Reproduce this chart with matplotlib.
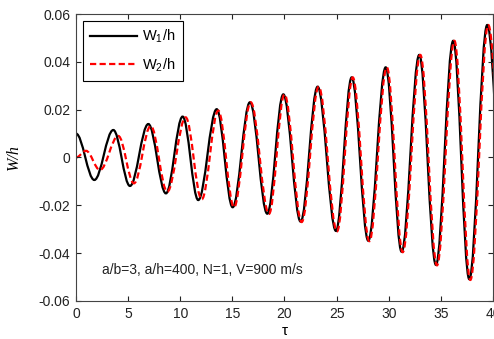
import matplotlib
matplotlib.use('Agg')
import matplotlib.pyplot as plt
from matplotlib.path import Path
from matplotlib.patches import PathPatch
from matplotlib.lines import Line2D

# turning points of the two responses (tau, W/h)
tau_w1 = [0.0, 1.76, 3.58, 5.18, 6.94, 8.63, 10.23, 11.73, 13.50, 15.03, 16.69, 18.35,
          19.89, 21.55, 23.18, 24.94, 26.45, 28.04, 29.71, 31.24, 32.93, 34.53, 36.19,
          37.73, 39.45, 41.4]
w1 = [0.0100, -0.0094, 0.0115, -0.0119, 0.0140, -0.0150, 0.0171, -0.0178, 0.0202, -0.0208,
      0.0231, -0.0235, 0.0264, -0.0268, 0.0296, -0.0307, 0.0335, -0.0348, 0.0377, -0.0394,
      0.0429, -0.0449, 0.0488, -0.0509, 0.0554, -0.0570]

tau_w2 = [0.0, 0.96, 2.30, 4.06, 5.56, 7.17, 8.76, 10.52, 12.06, 13.65, 15.16, 16.76, 18.51,
          20.00, 21.65, 23.28, 25.04, 26.55, 28.14, 29.82, 31.34, 33.03, 34.63, 36.30,
          37.83, 39.55, 41.5]
w2 = [0.0, 0.0028, -0.0052, 0.0090, -0.0108, 0.0132, -0.0143, 0.0168, -0.0175, 0.0196,
      -0.0208, 0.0231, -0.0236, 0.0264, -0.0270, 0.0296, -0.0309, 0.0335, -0.0350, 0.0377,
      -0.0396, 0.0429, -0.0451, 0.0488, -0.0512, 0.0554, -0.0570]

x_ticks = [0, 5, 10, 15, 20, 25, 30, 35, 40]
y_ticks = [-0.06, -0.04, -0.02, 0, 0.02, 0.04, 0.06]
y_tick_labels = ['-0.06', '-0.04', '-0.02', '0', '0.02', '0.04', '0.06']
labels = ['W$_1$/h', 'W$_2$/h']
note = 'a/b=3, a/h=400, N=1, V=900 m/s'

plt.rcParams['font.family'] = ['Liberation Sans', 'DejaVu Sans']
plt.rcParams['mathtext.default'] = 'regular'
plt.rcParams['axes.unicode_minus'] = False


# smooth curve through the turning points (horizontal tangent at each one)
def smooth_path(tau, w, k=0.363):
    verts = [(tau[0], w[0])]
    codes = [Path.MOVETO]
    for i in range(1, len(tau)):
        dt = tau[i] - tau[i - 1]
        verts += [(tau[i - 1] + k * dt, w[i - 1]), (tau[i] - k * dt, w[i]), (tau[i], w[i])]
        codes += [Path.CURVE4] * 3
    return Path(verts, codes)


fig = plt.figure(figsize=(4.94, 3.39), dpi=100)
ax = fig.add_axes([0.1538, 0.1121, 0.8441, 0.8466])

dash = (0, (2.8, 1.5))
ax.add_patch(PathPatch(smooth_path(tau_w1, w1), fill=False, edgecolor='black', lw=1.6))
ax.add_patch(PathPatch(smooth_path(tau_w2, w2), fill=False, edgecolor='red', lw=1.6,
                       linestyle=dash))

ax.set_xlim(0, 40)
ax.set_ylim(-0.06, 0.06)
ax.set_xticks(x_ticks)
ax.set_yticks(y_ticks)
ax.set_yticklabels(y_tick_labels)
ax.tick_params(direction='in', length=3.5, width=0.8, labelsize=10, pad=4,
               top=True, right=True, colors='#222222')
for s in ax.spines.values():
    s.set_color('#444444')
    s.set_linewidth(0.8)

ax.set_xlabel('τ', fontsize=11)
ax.xaxis.set_label_coords(0.5, -0.08)
ax.set_ylabel('W/h', fontsize=11.5, family='Liberation Serif', style='italic')
ax.yaxis.set_label_coords(-0.13, 0.5)

ax.text(2.45, -0.047, note, fontsize=10, va='center', color='#222222')

handles = [Line2D([], [], color='black', lw=1.6),
           Line2D([], [], color='red', lw=1.6, linestyle=dash)]
leg = ax.legend(handles, labels, loc='upper left', bbox_to_anchor=(0.016, 0.977),
                borderaxespad=0, fontsize=10.5, handlelength=3.2, handletextpad=0.4,
                labelspacing=0.75, borderpad=0.5, fancybox=False, framealpha=1)
leg.get_frame().set_edgecolor('black')
leg.get_frame().set_linewidth(0.8)

fig.savefig('out.png', dpi=100)
